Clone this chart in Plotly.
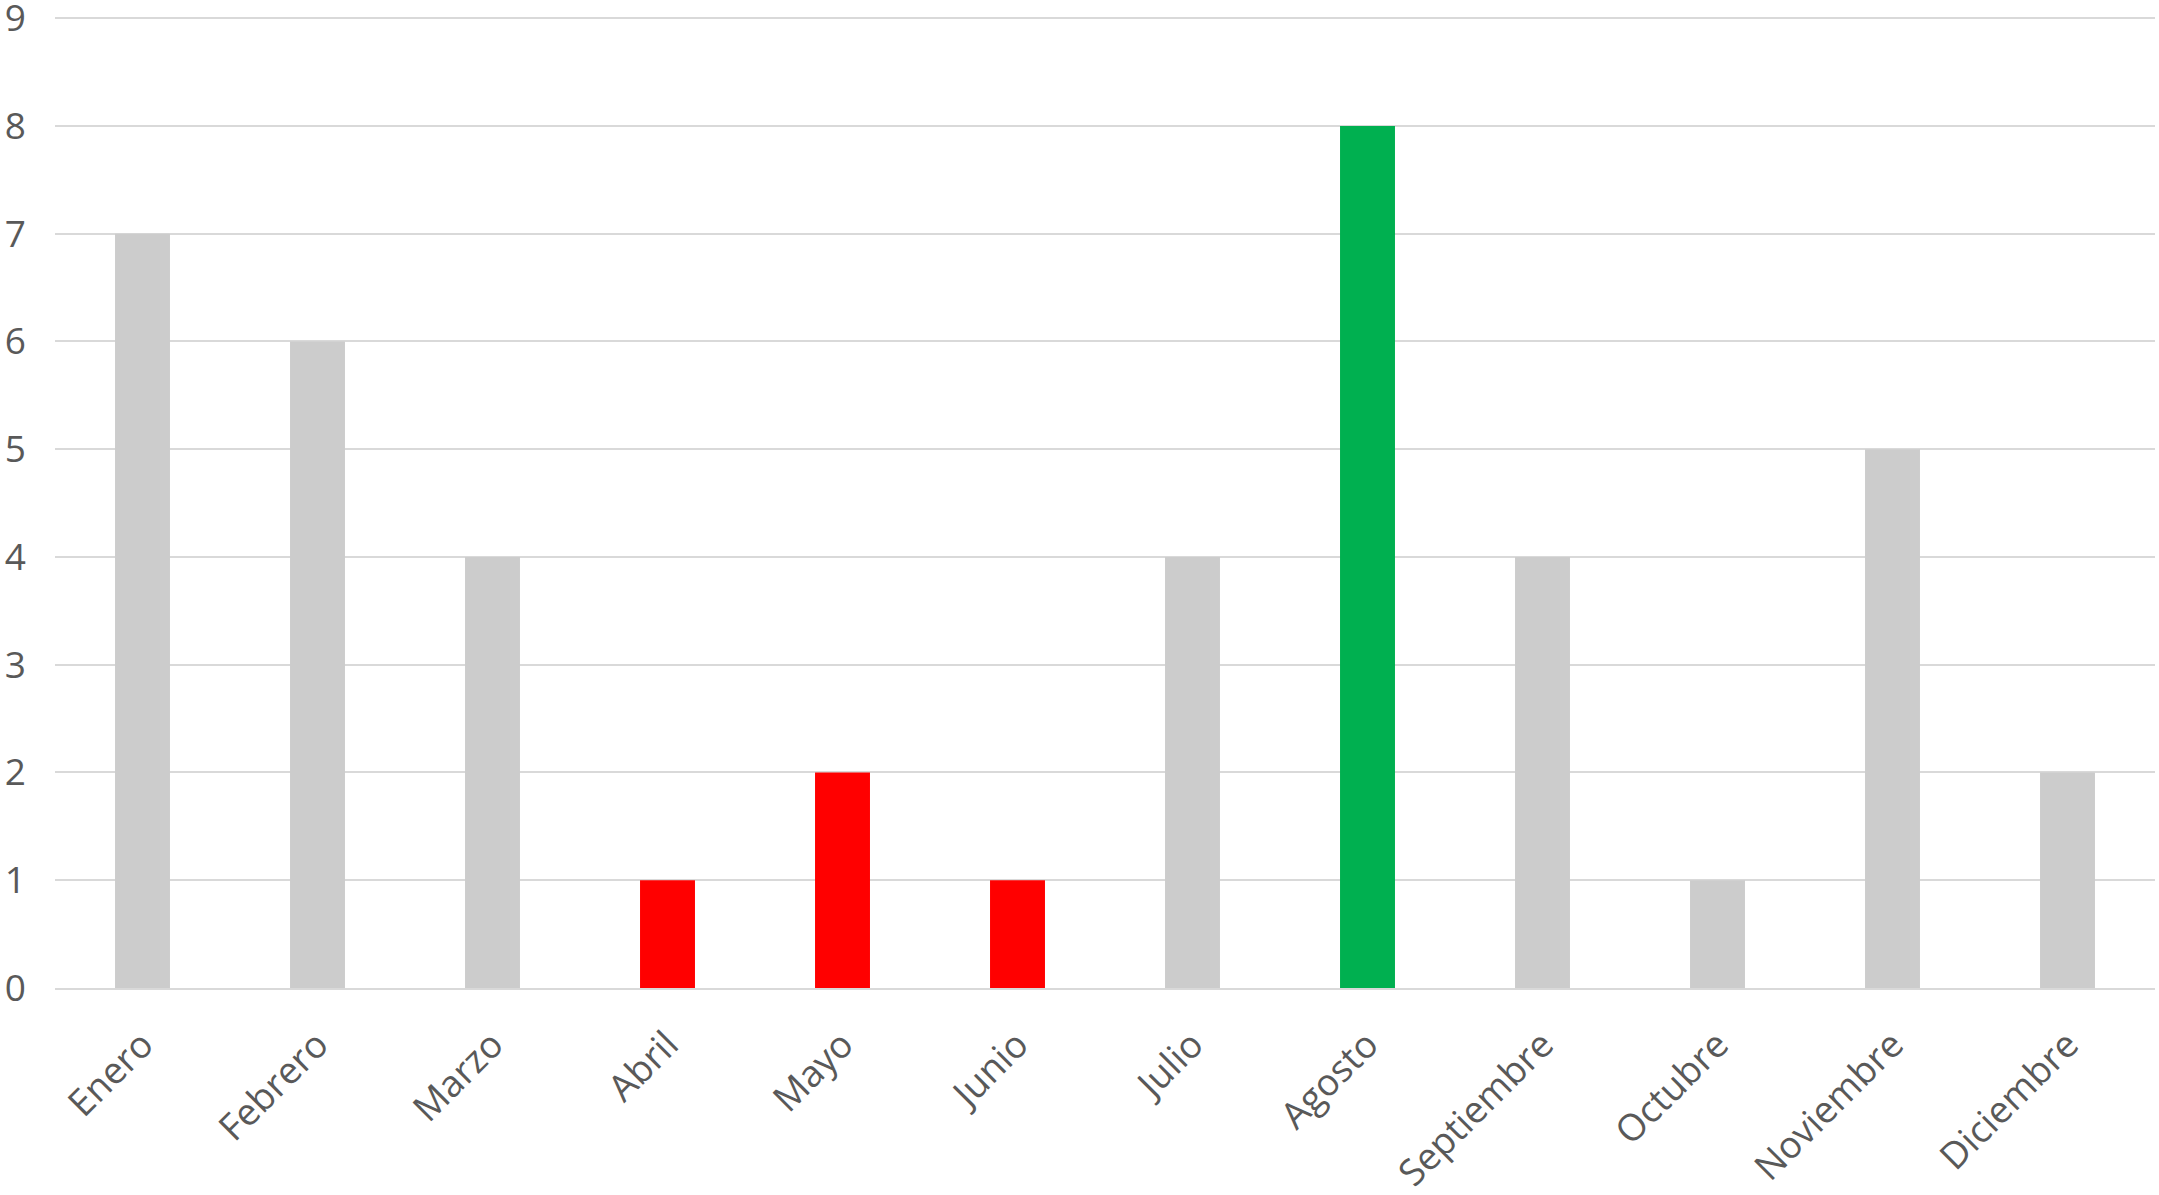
import plotly.graph_objects as go

# Monthly counts
months = ["Enero", "Febrero", "Marzo", "Abril", "Mayo", "Junio", "Julio",
          "Agosto", "Septiembre", "Octubre", "Noviembre", "Diciembre"]
values = [7, 6, 4, 1, 2, 1, 4, 8, 4, 1, 5, 2]
y_ticks = [0, 1, 2, 3, 4, 5, 6, 7, 8, 9]

GRAY, RED, GREEN = "#cccccc", "#ff0000", "#00b050"
bar_colors = [GRAY, GRAY, GRAY, RED, RED, RED, GRAY, GREEN, GRAY, GRAY, GRAY, GRAY]

fig = go.Figure(go.Bar(x=months, y=values, marker=dict(color=bar_colors, line_width=0)))

fig.update_layout(
    width=2159, height=1195,
    margin=dict(l=55, r=4, t=16, b=207),
    plot_bgcolor="white", paper_bgcolor="white",
    bargap=0.686,
    showlegend=False,
    font=dict(family="Open Sans", size=37, color="#595959"),
)
fig.update_yaxes(range=[0, 9.02], tickvals=y_ticks, showgrid=True, gridcolor="#d9d9d9",
                 gridwidth=2, zeroline=False, showline=False, ticks="",
                 ticklabelstandoff=28, ticklabeloverflow="allow", automargin=False)
fig.update_xaxes(tickangle=-45, showline=True, linecolor="#d9d9d9", linewidth=2,
                 ticks="", ticklabelstandoff=18, ticklabeloverflow="allow",
                 automargin=False)

# drop the browser's default body margin so the figure fills the window
fig.write_html("out.html", config={"displayModeBar": False},
               post_script="document.body.style.margin = '0';")
